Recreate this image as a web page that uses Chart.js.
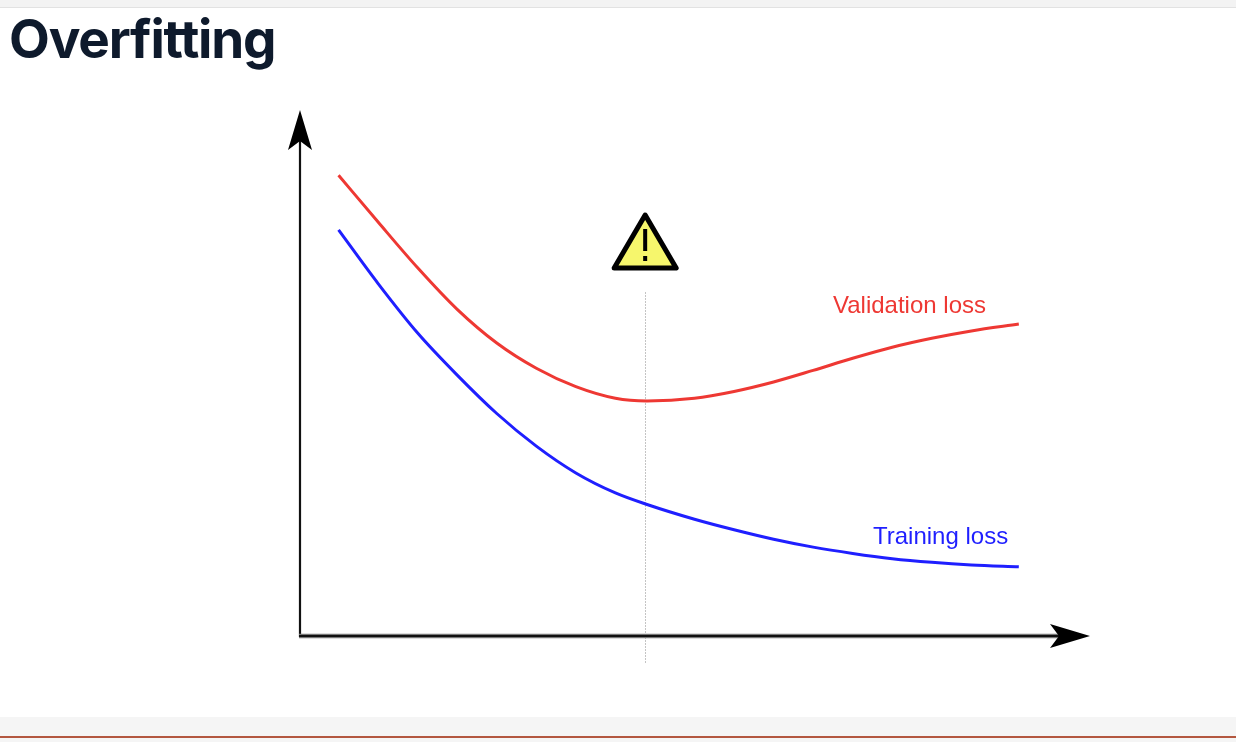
<!DOCTYPE html>
<html>
<head>
<meta charset="utf-8">
<script src="https://cdn.jsdelivr.net/npm/chart.js"></script>
<style>
  html, body { margin: 0; padding: 0; background: #fff; }
  body { width: 1236px; height: 742px; position: relative; overflow: hidden; }
  .topbar { position: absolute; left: 0; top: 0; width: 1236px; height: 7px; background: #f3f3f3; border-bottom: 1px solid #e2e2e2; }
  .bottombar { position: absolute; left: 0; top: 717px; width: 1236px; height: 25px; background: #f5f5f5; }
  .bottomline { position: absolute; left: 0; top: 736px; width: 1236px; height: 2px; background: #b3573f; }
  h1 { position: absolute; left: 9px; top: 13px; margin: 0; line-height: 53px; font-family: Inter, "Noto Sans", sans-serif; font-weight: 700; font-size: 53px; letter-spacing: -1.2px; color: #0e1a2c; }
  #wrap { position: absolute; left: 0; top: 0; width: 1236px; height: 742px; }
</style>
</head>
<body>
<div class="topbar"></div>
<div class="bottombar"></div>
<div class="bottomline"></div>
<div id="wrap"><canvas id="chart" width="1236" height="742"></canvas></div>
<h1>Overfitting</h1>
<script>
// epochs (arbitrary units) and loss values
const epochs = [5, 10, 15, 20, 25, 30, 35, 40, 44, 50, 55, 60, 65, 70, 75, 80, 85, 91];
const validationLoss = [8.76, 7.87, 7.00, 6.21, 5.57, 5.09, 4.74, 4.52, 4.47, 4.52, 4.65, 4.83, 5.05, 5.28, 5.49, 5.66, 5.80, 5.93];
const trainingLoss = [7.72, 6.70, 5.76, 4.96, 4.23, 3.61, 3.10, 2.72, 2.50, 2.22, 2.02, 1.84, 1.69, 1.57, 1.47, 1.40, 1.35, 1.315];
const stopEpoch = 43.7; // where validation loss bottoms out
const seriesLabels = ['Validation loss', 'Training loss'];

const red = '#ee3833';
const blue = '#1f1fff';

function toPoints(values) {
  return epochs.map((e, i) => ({ x: e, y: values[i] }));
}

const decorations = {
  id: 'decorations',
  beforeDatasetsDraw(chart) {
    const { ctx, chartArea, scales } = chart;
    const vx = Math.round(scales.x.getPixelForValue(stopEpoch)) + 0.5;
    // dotted marker line
    ctx.save();
    ctx.strokeStyle = '#c4c4c4';
    ctx.lineWidth = 1;
    ctx.setLineDash([2, 1]);
    ctx.beginPath();
    ctx.moveTo(vx, 292);
    ctx.lineTo(vx, chartArea.bottom + 27);
    ctx.stroke();
    ctx.restore();
  },
  afterDatasetsDraw(chart) {
    const { ctx, chartArea, scales } = chart;
    const left = chartArea.left + 1;
    const bottom = chartArea.bottom;
    const top = chartArea.top;
    const right = chartArea.right;

    ctx.save();
    // y axis
    ctx.strokeStyle = '#111';
    ctx.lineWidth = 2.2;
    ctx.beginPath();
    ctx.moveTo(left, bottom + 1);
    ctx.lineTo(left, top + 30);
    ctx.stroke();
    // x axis (shaded look)
    ctx.strokeStyle = '#777';
    ctx.lineWidth = 4.5;
    ctx.beginPath();
    ctx.moveTo(left - 1, bottom);
    ctx.lineTo(right - 30, bottom);
    ctx.stroke();
    ctx.strokeStyle = '#111';
    ctx.lineWidth = 2.2;
    ctx.beginPath();
    ctx.moveTo(left - 1, bottom);
    ctx.lineTo(right - 30, bottom);
    ctx.stroke();

    // arrow heads
    ctx.fillStyle = '#000';
    ctx.beginPath();
    ctx.moveTo(left, top);
    ctx.lineTo(left + 12, top + 40);
    ctx.lineTo(left, top + 31);
    ctx.lineTo(left - 12, top + 40);
    ctx.closePath();
    ctx.fill();
    ctx.beginPath();
    ctx.moveTo(right, bottom);
    ctx.lineTo(right - 40, bottom - 12);
    ctx.lineTo(right - 31, bottom);
    ctx.lineTo(right - 40, bottom + 12);
    ctx.closePath();
    ctx.fill();

    // warning sign above the marker line
    const cx = scales.x.getPixelForValue(stopEpoch) + 0.5;
    ctx.lineJoin = 'round';
    ctx.lineWidth = 5;
    ctx.strokeStyle = '#000';
    ctx.fillStyle = '#f6f66c';
    ctx.beginPath();
    ctx.moveTo(cx, 215);
    ctx.lineTo(cx + 31, 268);
    ctx.lineTo(cx - 31, 268);
    ctx.closePath();
    ctx.fill();
    ctx.stroke();
    ctx.fillStyle = '#000';
    ctx.fillRect(cx - 2, 229, 4, 22);
    ctx.fillRect(cx - 2, 256, 4, 5);

    // series labels
    ctx.font = '24px "Liberation Sans", Arial, sans-serif';
    ctx.textBaseline = 'alphabetic';
    ctx.textAlign = 'left';
    ctx.fillStyle = red;
    ctx.fillText(seriesLabels[0], 833, 313);
    ctx.fillStyle = blue;
    ctx.fillText(seriesLabels[1], 873, 544);
    ctx.restore();
  }
};

new Chart(document.getElementById('chart'), {
  type: 'line',
  data: {
    datasets: [
      {
        label: seriesLabels[0],
        data: toPoints(validationLoss),
        borderColor: red,
        borderWidth: 3,
        pointRadius: 0,
        cubicInterpolationMode: 'monotone',
        fill: false
      },
      {
        label: seriesLabels[1],
        data: toPoints(trainingLoss),
        borderColor: blue,
        borderWidth: 3,
        pointRadius: 0,
        cubicInterpolationMode: 'monotone',
        fill: false
      }
    ]
  },
  options: {
    responsive: false,
    animation: false,
    devicePixelRatio: 1,
    layout: { padding: { left: 299, right: 146, top: 110, bottom: 106 } },
    plugins: {
      legend: { display: false },
      tooltip: { enabled: false }
    },
    scales: {
      x: { type: 'linear', min: 0, max: 100, display: false },
      y: { min: 0, max: 10, display: false }
    }
  },
  plugins: [decorations]
});
</script>
</body>
</html>
